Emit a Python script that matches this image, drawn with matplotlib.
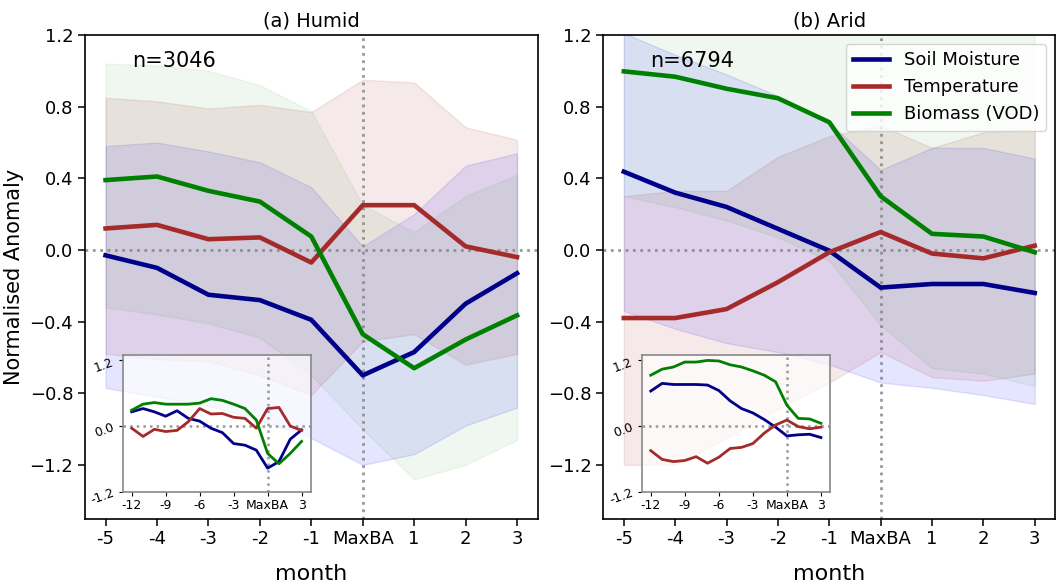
import numpy as np
import matplotlib
matplotlib.use("Agg")
import matplotlib.pyplot as plt

# months relative to the month of maximum burned area
months = [-5, -4, -3, -2, -1, 0, 1, 2, 3]
month_labels = ["-5", "-4", "-3", "-2", "-1", "MaxBA", "1", "2", "3"]
inset_months = list(range(-12, 4))

# humid regions (a)
humid_sm = [-0.03, -0.10, -0.25, -0.28, -0.39, -0.70, -0.57, -0.30, -0.13]
humid_temp = [0.12, 0.14, 0.06, 0.07, -0.07, 0.25, 0.25, 0.02, -0.04]
humid_vod = [0.39, 0.41, 0.33, 0.27, 0.075, -0.47, -0.66, -0.50, -0.365]
humid_sm_hi = [0.58, 0.60, 0.55, 0.49, 0.35, 0.02, 0.20, 0.47, 0.54]
humid_sm_lo = [-0.77, -0.82, -0.87, -0.95, -1.05, -1.20, -1.14, -0.98, -0.88]
humid_temp_hi = [0.85, 0.83, 0.79, 0.81, 0.77, 0.95, 0.935, 0.685, 0.615]
humid_temp_lo = [-0.58, -0.61, -0.62, -0.70, -0.81, -0.51, -0.47, -0.64, -0.58]
humid_vod_hi = [1.04, 1.03, 1.00, 0.92, 0.775, 0.25, 0.10, 0.30, 0.42]
humid_vod_lo = [-0.32, -0.36, -0.41, -0.49, -0.70, -1.00, -1.28, -1.20, -1.06]

# arid regions (b)
arid_sm = [0.437, 0.32, 0.24, 0.118, -0.004, -0.21, -0.19, -0.19, -0.24]
arid_temp = [-0.38, -0.38, -0.33, -0.18, -0.013, 0.10, -0.02, -0.047, 0.024]
arid_vod = [0.997, 0.967, 0.90, 0.847, 0.713, 0.30, 0.09, 0.075, -0.013]
arid_sm_hi = [1.21, 1.09, 0.98, 0.86, 0.71, 0.447, 0.57, 0.57, 0.51]
arid_sm_lo = [-0.34, -0.44, -0.52, -0.57, -0.64, -0.74, -0.77, -0.81, -0.86]
arid_temp_hi = [0.30, 0.33, 0.33, 0.52, 0.635, 0.695, 0.57, 0.657, 0.676]
arid_temp_lo = [-1.20, -1.20, -1.05, -0.89, -0.74, -0.57, -0.71, -0.73, -0.69]
arid_vod_hi = [1.9, 1.85, 1.75, 1.65, 1.55, 1.35, 1.3, 1.3, 1.25]
arid_vod_lo = [0.30, 0.24, 0.165, 0.07, -0.06, -0.42, -0.66, -0.69, -0.76]

# insets: full year before fire
humid_in_sm = [0.26, 0.32, 0.26, 0.18, 0.28, 0.14, 0.09, -0.04, -0.12, -0.32, -0.35, -0.44, -0.77, -0.65, -0.24, -0.07]
humid_in_temp = [-0.04, -0.19, -0.06, -0.10, -0.08, 0.08, 0.32, 0.22, 0.23, 0.16, 0.14, -0.04, 0.32, 0.34, 0.0, -0.08]
humid_in_vod = [0.29, 0.40, 0.43, 0.40, 0.40, 0.40, 0.42, 0.50, 0.47, 0.40, 0.32, 0.11, -0.50, -0.69, -0.50, -0.28]
arid_in_sm = [0.64, 0.78, 0.76, 0.76, 0.76, 0.75, 0.65, 0.46, 0.32, 0.24, 0.12, -0.02, -0.18, -0.16, -0.15, -0.21]
arid_in_temp = [-0.45, -0.61, -0.65, -0.63, -0.56, -0.68, -0.57, -0.41, -0.39, -0.32, -0.13, 0.02, 0.11, -0.01, -0.05, -0.02]
arid_in_vod = [0.93, 1.04, 1.08, 1.17, 1.17, 1.20, 1.19, 1.12, 1.08, 1.01, 0.93, 0.81, 0.38, 0.14, 0.13, 0.05]

names = ["Soil Moisture", "Temperature", "Biomass (VOD)"]
line_colors = ["darkblue", "brown", "green"]
band_colors = ["blue", "brown", "green"]
band_alpha = [0.1, 0.1, 0.06]

fig = plt.figure(figsize=(10.61, 5.87), dpi=100)
ax_a = fig.add_axes([0.0801, 0.1164, 0.4266, 0.8240])
ax_b = fig.add_axes([0.5686, 0.1164, 0.4260, 0.8240])
in_a = fig.add_axes([0.1156, 0.1624, 0.1772, 0.2329])
in_b = fig.add_axes([0.6048, 0.1624, 0.1775, 0.2329])


def draw_main(ax, title, n, means, his, los):
    for m, hi, lo, lc, bc, al, nm in zip(means, his, los, line_colors, band_colors, band_alpha, names):
        ax.fill_between(months, lo, hi, color=bc, alpha=al, zorder=1)
        ax.plot(months, m, color=lc, lw=3.3, label=nm, zorder=3)
    ax.axhline(0, color="grey", ls=":", lw=2, alpha=0.8, zorder=2)
    ax.axvline(0, color="grey", ls=":", lw=2, alpha=0.8, zorder=2)
    ax.set_xlim(-5.4, 3.4)
    ax.set_ylim(-1.5, 1.2)
    ax.set_xticks(months)
    ax.set_xticklabels(month_labels)
    ax.set_yticks([-1.2, -0.8, -0.4, 0.0, 0.4, 0.8, 1.2])
    ax.tick_params(labelsize=13, length=5, width=1.1)
    for s in ax.spines.values():
        s.set_linewidth(1.2)
    ax.set_title(title, fontsize=14)
    ax.set_xlabel("month", fontsize=16, labelpad=11)
    ax.text(0.104, 0.947, n, transform=ax.transAxes, fontsize=15, va="center")


def draw_inset(ax, means):
    ax.patch.set_alpha(0.7)
    for m, lc in zip(means, line_colors):
        ax.plot(inset_months, m, color=lc, lw=2, zorder=3)
    ax.axhline(0, color="grey", ls=":", lw=1.8, alpha=0.8, zorder=2)
    ax.axvline(0, color="grey", ls=":", lw=1.8, alpha=0.8, zorder=2)
    ax.set_xlim(-12.8, 3.8)
    ax.set_ylim(-1.2, 1.3)
    ax.set_xticks([-12, -9, -6, -3, 0, 3])
    ax.set_xticklabels(["-12", "-9", "-6", "-3", "MaxBA", "3"])
    ax.set_yticks([-1.2, 0.0, 1.2])
    ax.set_yticklabels(["-1.2", "0.0", "1.2"], rotation=20)
    ax.tick_params(labelsize=9, length=3, pad=2)
    for s in ax.spines.values():
        s.set_color("#888888")
        s.set_linewidth(1.2)


draw_main(ax_a, "(a) Humid", "n=3046",
          [humid_sm, humid_temp, humid_vod],
          [humid_sm_hi, humid_temp_hi, humid_vod_hi],
          [humid_sm_lo, humid_temp_lo, humid_vod_lo])
draw_main(ax_b, "(b) Arid", "n=6794",
          [arid_sm, arid_temp, arid_vod],
          [arid_sm_hi, arid_temp_hi, arid_vod_hi],
          [arid_sm_lo, arid_temp_lo, arid_vod_lo])
ax_a.set_ylabel("Normalised Anomaly", fontsize=15)
ax_b.legend(loc="upper right", fontsize=13, handlelength=2.0, borderaxespad=0.5)

draw_inset(in_a, [humid_in_sm, humid_in_temp, humid_in_vod])
draw_inset(in_b, [arid_in_sm, arid_in_temp, arid_in_vod])

fig.savefig("out.png", dpi=100)
